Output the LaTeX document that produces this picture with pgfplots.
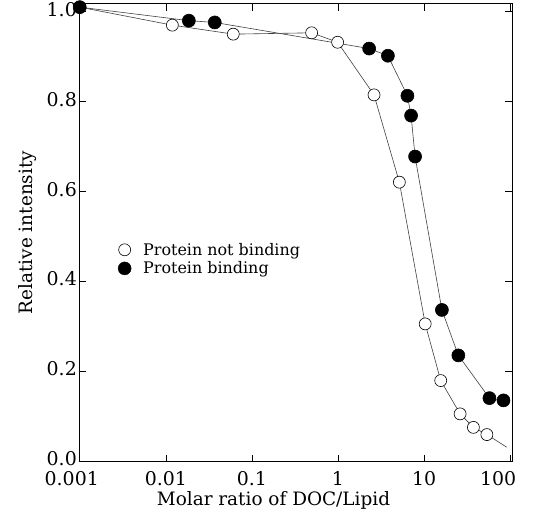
\documentclass[border=0pt]{standalone}
\usepackage{fontspec}
\setmainfont{DejaVu Serif}
\usepackage{pgfplots}
\pgfplotsset{compat=1.18}
\begin{document}
\begin{tikzpicture}[x=1bp,y=1bp]
\begin{axis}[
  at={(0,0)}, anchor=south west,
  scale only axis, width=433bp, height=458bp,
  xmode=log, xmin=0.00098, xmax=105, ymin=0, ymax=1.018,
  xtick={0.001,0.01,0.1,1,10,100},
  xticklabels={{\hspace*{-16bp}0.001},0.01,0.1,1,10,{\hspace*{-24bp}100}},
  xminorticks=false,
  ytick={0,0.2,0.4,0.6,0.8,1.0},
  yticklabel style={/pgf/number format/fixed,/pgf/number format/fixed zerofill,/pgf/number format/precision=1, yshift=2.5bp},
  xticklabel style={yshift=-7.5bp},
  /pgf/number format/assume math mode=true,
  tick align=inside, major tick length=7bp,
  tick style={black, line width=0.6bp},
  axis line style={line width=0.8bp},
  ticklabel style={font=\fontsize{19}{22}\selectfont, inner sep=2bp},
  label style={font=\fontsize{18.5}{22}\selectfont},
  xlabel={Molar ratio of DOC/Lipid},
  xlabel style={xshift=-22bp, yshift=0bp},
  ylabel={Relative intensity},
  ylabel style={yshift=5bp},
  legend style={at={(axis description cs:0.09,0.482)}, anchor=north west, draw=none, fill=none,
    font=\fontsize{16}{19}\selectfont, row sep=1bp, inner sep=0pt,
    /tikz/every odd column/.append style={column sep=10bp}},
  legend cell align=left,
]
\addlegendimage{only marks, mark=*, mark options={fill=white, draw=black, line width=0.6bp}, mark size=6bp}
\addlegendentry{Protein not binding}
\addlegendimage{only marks, mark=*, mark options={fill=black, draw=black}, mark size=6.5bp}
\addlegendentry{Protein binding}
% open circles: protein not binding
\addplot[forget plot, black!75, line width=0.6bp, mark=*, mark size=6bp,
  mark options={fill=white, draw=black, line width=0.6bp}] coordinates {
  (0.001,1.01) (0.0119,0.970) (0.0607,0.950) (0.494,0.953) (0.99,0.932)
  (2.62,0.815) (5.16,0.621) (10.3,0.306) (15.6,0.180) (26.2,0.106)
  (37.4,0.076) (53.6,0.060)
};
\addplot[forget plot, black!75, line width=0.6bp] coordinates {(53.6,0.060) (91,0.032)};
% filled circles: protein binding
\addplot[forget plot, black!75, line width=0.6bp, mark=*, mark size=6.5bp,
  mark options={fill=black, draw=black}] coordinates {
  (0.001,1.01) (0.0185,0.980) (0.037,0.976) (2.3,0.918) (3.8,0.902)
  (6.4,0.813) (7.06,0.769) (7.86,0.678) (16.1,0.337) (25,0.236)
  (57.4,0.141) (83.6,0.136)
};
\end{axis}
\path (-79,-55) rectangle (470,461);
\end{tikzpicture}
\end{document}
